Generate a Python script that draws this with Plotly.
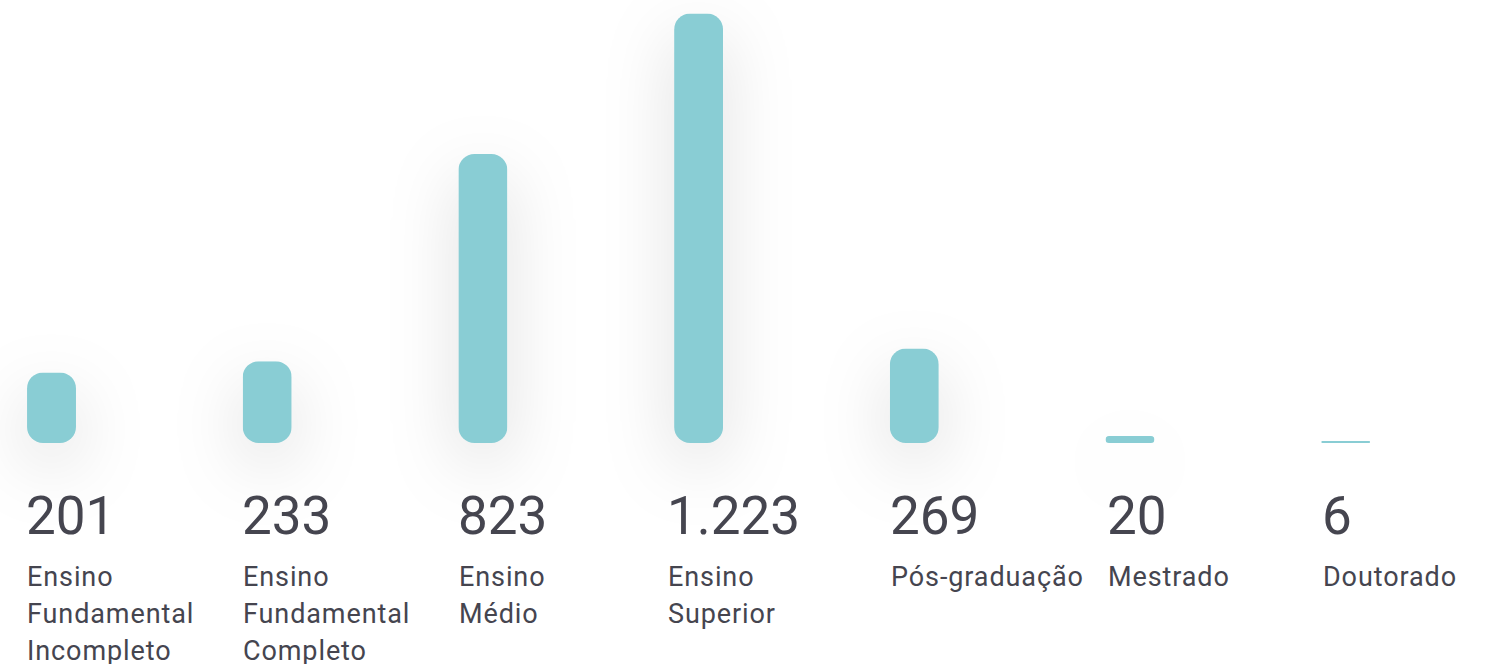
import plotly.graph_objects as go

categories = ["Ensino<br>Fundamental<br>Incompleto", "Ensino<br>Fundamental<br>Completo",
              "Ensino<br>Médio", "Ensino<br>Superior", "Pós-graduação", "Mestrado", "Doutorado"]
values = [201, 233, 823, 1223, 269, 20, 6]
value_labels = ["201", "233", "823", "1.223", "269", "20", "6"]

# style constants
BAR_COLOR = "#89CDD4"
TEXT_COLOR = "#45454F"
BAR_W = 0.227
TEXT_XSHIFT = [0, 0, 1, -6, 1, 2, 2]
LINE_PITCH = 37
xs = list(range(len(values)))

fig = go.Figure(go.Bar(
    x=xs, y=values, width=BAR_W,
    marker=dict(color=BAR_COLOR, line=dict(width=0)),
    hoverinfo="skip", cliponaxis=False,
))

annotations = []
for i, (lab, cat) in enumerate(zip(value_labels, categories)):
    left = i - BAR_W / 2
    annotations.append(dict(
        x=left, y=0, xref="x", yref="y", text=lab, showarrow=False,
        xanchor="left", yanchor="middle", yshift=-73, xshift=-3 + TEXT_XSHIFT[i],
        font=dict(family="Roboto", size=53, color=TEXT_COLOR),
    ))
    for k, line in enumerate(cat.split("<br>")):
        annotations.append(dict(
            x=left, y=0, xref="x", yref="y", text=line, showarrow=False,
            xanchor="left", yanchor="top", yshift=-116 - LINE_PITCH * k,
            xshift=-2 + TEXT_XSHIFT[i], align="left",
            font=dict(family="Roboto", size=27, color=TEXT_COLOR),
        ))

fig.update_layout(
    width=1493, height=664,
    margin=dict(l=0, r=0, t=0, b=0),
    paper_bgcolor="white", plot_bgcolor="white",
    showlegend=False,
    xaxis=dict(range=[-0.2388, 6.683], visible=False, fixedrange=True),
    yaxis=dict(range=[-629.3, 1261.4], visible=False, fixedrange=True),
    annotations=annotations,
)

post = """
var s = document.createElement('style');
s.innerHTML = 'body{margin:0;}'
 + ' .barlayer .point path{clip-path: inset(0 round 16px);}'
 + ' .barlayer .point{filter: drop-shadow(0px 22px 34px rgba(0,0,0,0.13));}'
 + ' text.annotation-text[style*="font-size: 27px"]{letter-spacing:0.9px;}';
document.head.appendChild(s);
"""
fig.write_html("out.html", post_script=post, config={"displayModeBar": False})
